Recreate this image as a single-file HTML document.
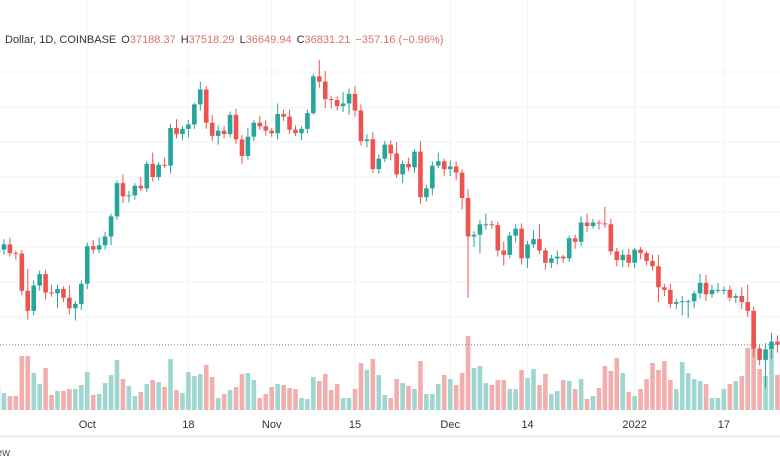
<!DOCTYPE html>
<html><head><meta charset="utf-8"><style>
body{margin:0;background:#fff;width:780px;height:470px;overflow:hidden;font-family:"Liberation Sans",sans-serif}
svg{display:block}
</style></head><body>
<svg id="chart" width="780" height="470" viewBox="0 0 780 470" xmlns="http://www.w3.org/2000/svg">
<rect x="0" y="0" width="780" height="470" fill="#fff"/>
<g id="grid"></g>
<g id="vol"></g>
<line x1="0" y1="345" x2="780" y2="345" stroke="#888" stroke-width="1" stroke-dasharray="1,2" id="lastline"/>
<g id="candles"></g>
<g id="xaxis"></g>
<rect x="0" y="435" width="780" height="3" fill="#eef0f3"/>
<text x="-4" y="456" font-size="11" fill="#555">ew</text>
<text x="5" y="43" font-size="11" fill="#333">Dollar, 1D, COINBASE<tspan dx="5" fill="#333">O</tspan><tspan fill="#d9736f">37188.37</tspan><tspan dx="5" fill="#333">H</tspan><tspan fill="#d9736f">37518.29</tspan><tspan dx="5" fill="#333">L</tspan><tspan fill="#d9736f">36649.94</tspan><tspan dx="5" fill="#333">C</tspan><tspan fill="#d9736f">36831.21</tspan><tspan dx="5" fill="#d9736f">−357.16 (−0.96%)</tspan></text>
</svg>
<script>
const closes=[47700,48300,47300,47250,43000,40700,43600,44900,42800,42700,43200,42200,41000,41500,43800,
48100,47700,48200,49200,51500,55300,53800,53900,55000,54700,57500,56000,57400,57300,61600,60900,61500,62000,64300,66000,62200,60700,61300,60900,63100,60300,58400,60600,62200,61800,61300,
61000,63200,62900,61400,61000,61500,63300,67500,66900,64900,64800,64100,64400,65500,63600,60100,60300,56900,58100,59700,58700,56300,57500,57100,58900,53700,54700,57300,57800,56900,
57200,56500,53600,49200,49400,50600,50600,50500,47600,47100,49300,50100,46700,48300,48900,47600,46200,46700,46900,46700,49000,48600,50800,50400,50800,50700,50600,47500,46500,47100,46200,
47700,47300,46400,45800,43400,43100,41500,41700,41800,41800,42700,43900,42600,43100,43100,43100,42200,42400,41700,40700,36400,35100,36300,37188,36831];
const firstOpen=47400;
const wickUp=[500,600,800,300,400,2500,600,400,500,900,500,300,1400,300,400,
400,700,900,500,300,300,1000,500,300,1000,300,1300,300,800,500,1000,300,500,200,900,400,900,600,500,400,700,500,1000,300,800,700,
300,1200,500,800,500,300,400,300,1900,1200,400,400,1300,600,900,700,600,800,500,400,500,1300,400,700,300,1200,400,500,1000,300,
700,600,400,1000,400,500,1200,400,400,1000,400,500,600,400,1000,1700,300,400,700,200,300,400,700,1000,400,300,1900,600,400,600,700,
200,300,200,700,1300,400,700,400,600,200,300,1000,900,600,800,400,500,300,1000,2000,500,500,700,1000,700];
const wickDn=[500,600,400,700,500,1000,500,600,800,400,1700,500,700,1400,700,
600,500,400,500,1000,400,800,700,500,300,400,500,400,300,900,500,700,1000,500,700,700,600,1000,500,400,500,900,400,500,400,600,
400,700,500,500,300,800,500,200,700,1000,1000,500,700,1300,700,500,700,400,500,400,800,400,1000,400,600,800,500,800,300,800,
800,900,1300,7000,1200,2100,600,400,700,1200,400,800,700,1100,400,400,800,600,700,500,400,800,500,700,300,700,400,400,700,800,500,
600,700,500,500,1700,700,500,600,1500,1900,800,600,800,400,400,500,400,600,800,700,1000,600,3300,1100,900];
const volumes=[24,17,14,14,54,54,37,26,42,15,19,19,21,21,25,
38,15,16,27,35,50,31,24,14,18,26,30,28,23,51,20,17,38,34,36,45,33,12,16,20,23,36,37,30,12,16,
23,26,25,22,21,12,11,33,29,36,20,26,12,12,21,47,40,51,35,15,12,31,27,24,21,49,16,16,26,35,
31,25,37,74,42,44,27,25,30,30,21,21,40,32,41,25,36,16,19,30,29,21,31,11,14,22,44,39,52,37,18,
14,21,31,47,40,49,30,21,48,37,31,29,26,12,12,21,26,29,34,62,73,41,34,60,35];
const xTickLabels=["Oct","18","Nov","15","Dec","14","2022","17"];
const xTickIdx=[15,32,46,60,76,89,107,122];
const priceGrid=[68000,64000,60000,56000,52000,48000,44000,40000];

const NS="http://www.w3.org/2000/svg";
const step=5.95, x0=-2;
const X=i=>x0+i*step;
const Y=p=>72+(68000-p)*35/4000;
const VY=v=>410-v;
function mk(tag,attrs,parent){const e=document.createElementNS(NS,tag);for(const k in attrs)e.setAttribute(k,attrs[k]);parent.appendChild(e);return e;}
const grid=document.getElementById('grid');
priceGrid.forEach(p=>{const l=mk('line',{x1:0,x2:780,y1:Y(p),y2:Y(p),stroke:'#f0f3f7','stroke-width':1},grid);

});
xTickIdx.forEach((ix,k)=>{const l=mk('line',{x1:X(ix),x2:X(ix),y1:0,y2:412,stroke:'#f0f3f7','stroke-width':1},grid);


const t=mk('text',{x:X(ix),y:428,'font-size':11,fill:'#333','text-anchor':'middle'},document.getElementById('xaxis'));
t.textContent=xTickLabels[k];

});
const vg=document.getElementById('vol'), cg=document.getElementById('candles');
closes.forEach((c,i)=>{
 const o=i===0?firstOpen:closes[i-1];
 const up=c>=o;
 const x=X(i);
 const v=mk('rect',{x:x-2.3,y:VY(volumes[i]),width:4.6,height:volumes[i],fill:up?'#9fd6cf':'#f2aeac'},vg);
 
 
 const col=up?'#26a69a':'#ef5350';
 const hi=Math.max(o,c)+wickUp[i], lo=Math.min(o,c)-wickDn[i];
 const w=mk('line',{x1:x,x2:x,y1:Y(hi),y2:Y(lo),stroke:col,'stroke-width':1},cg);
 
 
 const top=Y(Math.max(o,c)), h=Math.max(1,Y(Math.min(o,c))-top);
 const b=mk('rect',{x:x-2.3,y:top,width:4.6,height:h,fill:col},cg);
 
 
});
const ll=document.getElementById('lastline');ll.setAttribute('y1',Y(closes[closes.length-1]));ll.setAttribute('y2',Y(closes[closes.length-1]));
</script>
</body></html>
